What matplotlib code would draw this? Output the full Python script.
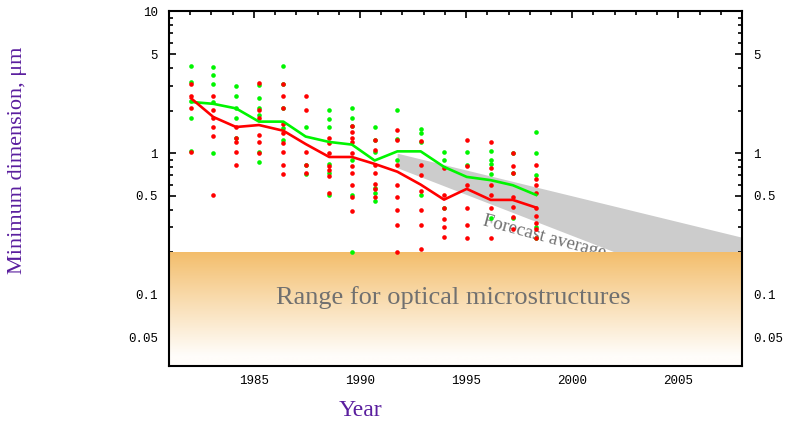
import matplotlib
matplotlib.use('Agg')
import matplotlib.pyplot as plt
import numpy as np
from matplotlib.ticker import LogLocator, FixedLocator, NullFormatter

# Data columns (year positions of the survey points)
years = [1982.04, 1983.09, 1984.16, 1985.24, 1986.39, 1987.44, 1988.55, 1989.62,
         1990.69, 1991.76, 1992.86, 1993.96, 1995.03, 1996.16, 1997.20, 1998.30]

# Average curves
green_avg = [2.30, 2.23, 2.07, 1.67, 1.67, 1.31, 1.20, 1.15,
             0.888, 1.03, 1.03, 0.80, 0.68, 0.645, 0.594, 0.507]
red_avg = [2.44, 1.80, 1.53, 1.58, 1.44, 1.16, 0.94, 0.94,
           0.84, 0.74, 0.60, 0.47, 0.56, 0.468, 0.468, 0.413]

# Individual points per column
green_pts = [
    [4.14, 3.19, 2.33, 1.76, 1.04],
    [4.07, 3.56, 3.06, 2.28, 1.01],
    [2.99, 2.52, 2.07, 1.76, 1.29],
    [3.02, 2.46, 2.07, 1.86, 1.02, 0.87],
    [4.14, 3.06, 2.07, 1.51, 1.24],
    [1.53, 0.82, 0.71],
    [2.02, 1.74, 1.53, 0.84, 0.72, 0.505],
    [2.07, 1.76, 1.56, 0.89, 0.505, 0.20],
    [1.53, 1.24, 1.02, 0.57, 0.52, 0.46],
    [2.02, 1.26, 0.89],
    [1.49, 1.38, 1.20, 0.51],
    [1.02, 0.89, 0.41],
    [1.02, 0.82],
    [1.04, 0.89, 0.84, 0.71, 0.35],
    [1.01, 0.72, 0.35],
    [1.40, 1.0, 0.70, 0.30, 0.25],
]
red_pts = [
    [3.07, 2.52, 2.07, 1.02],
    [2.52, 2.02, 1.76, 1.53, 1.33, 0.51],
    [1.53, 1.27, 1.20, 1.02, 0.82],
    [3.12, 2.02, 1.76, 1.34, 1.20, 1.0],
    [3.06, 2.52, 2.07, 1.60, 1.38, 1.18, 1.02, 0.82, 0.71],
    [2.52, 2.02, 1.02, 0.82, 0.73],
    [1.29, 1.18, 1.01, 0.81, 0.755, 0.69, 0.52],
    [1.56, 1.40, 1.29, 1.19, 1.01, 0.81, 0.72, 0.60, 0.49, 0.39],
    [1.24, 1.05, 0.82, 0.72, 0.61, 0.56, 0.49],
    [1.46, 1.24, 0.82, 0.60, 0.49, 0.40, 0.31, 0.20],
    [1.22, 0.82, 0.70, 0.54, 0.40, 0.31, 0.21],
    [0.79, 0.505, 0.41, 0.345, 0.30, 0.256],
    [1.24, 0.81, 0.60, 0.41, 0.31, 0.25],
    [1.20, 0.79, 0.60, 0.51, 0.41, 0.25],
    [1.01, 0.81, 0.72, 0.49, 0.42, 0.357, 0.29],
    [0.82, 0.655, 0.594, 0.52, 0.41, 0.36, 0.32, 0.29, 0.25],
]

# Forecast band
forecast_years = [1991.75, 2008.0]
forecast_upper = [1.0, 0.255]
forecast_lower = [0.79, 0.09]

optical_limit = 0.2
xlim = (1981, 2008)
ylim = (10 ** -1.5, 10)

purple = '#5a1e9e'
green = '#00f500'
red = '#ff0000'

fig = plt.figure(figsize=(7.85, 4.23), dpi=100)
ax = fig.add_axes([169 / 785, 1 - 365.7 / 423, (742 - 169) / 785, (365.7 - 11.5) / 423])
ax.set_yscale('log')
ax.set_xlim(*xlim)
ax.set_ylim(*ylim)

# Forecast band
ax.fill_between(forecast_years, forecast_lower, forecast_upper,
                color='#cccccc', linewidth=0, zorder=1)
ax.text(1995.74, 0.31, 'Forecast average', rotation=-15, rotation_mode='anchor',
        ha='left', va='baseline', color='#707070', family='Liberation Serif',
        fontsize=13.5, zorder=1.5)

# Optical range band with gradient
top_frac = (np.log10(optical_limit) - np.log10(ylim[0])) / (np.log10(ylim[1]) - np.log10(ylim[0]))
t = np.linspace(0, 1, 256)
f = np.clip(t * 1.1, 0, 1) ** 0.95
c_top = np.array([243, 189, 106]) / 255
c_bot = np.array([255, 253, 250]) / 255
grad = c_top[None, :] * (1 - f[:, None]) + c_bot[None, :] * f[:, None]
ax.imshow(grad[:, None, :], extent=(0, 1, 0, top_frac), transform=ax.transAxes,
          aspect='auto', origin='upper', zorder=2, interpolation='bilinear')
ax.text(0.5 * (1981 + 2008) - 0.1, 0.096, 'Range for optical microstructures',
        ha='center', va='center', color='#707070', family='Liberation Serif',
        fontsize=19, zorder=3)

# Points
for x, pts in zip(years, green_pts):
    ax.scatter([x] * len(pts), pts, s=11, color=green, linewidths=0, zorder=4)
for x, pts in zip(years, red_pts):
    ax.scatter([x] * len(pts), pts, s=11, color=red, linewidths=0, zorder=4)

ax.plot(years, green_avg, color=green, lw=1.9, zorder=5)
ax.plot(years, red_avg, color=red, lw=1.9, zorder=5)

# Ticks
ax.set_xticks([1985, 1990, 1995, 2000, 2005])
ax.xaxis.set_minor_locator(FixedLocator(np.arange(1982, 2008)))
ax.set_yticks([0.05, 0.1, 0.5, 1, 5, 10])
ax.set_yticklabels(['0.05', '0.1', '0.5', '1', '5', '10'])
ax.yaxis.set_minor_locator(LogLocator(base=10, subs=np.arange(2, 10)))
ax.yaxis.set_minor_formatter(NullFormatter())
ax.tick_params(which='both', direction='in', top=True, right=True,
               labelright=True, labelfontfamily='Liberation Mono', labelsize=9,
               width=1.2, color='black')
ax.tick_params(which='major', length=5, pad=8)
ax.tick_params(which='minor', length=3)
ax.tick_params(axis='x', pad=7)
for sp in ax.spines.values():
    sp.set_linewidth(1.5)

# hide the "10" label on the right side
for tk in ax.yaxis.get_major_ticks():
    if tk.get_loc() == 10:
        tk.label2.set_visible(False)

fig.text(18 / 785, 1 - 160 / 423, 'Minimum dimension, μm', rotation=90,
         ha='center', va='center', color=purple, family='Liberation Serif', fontsize=16)
fig.text(360 / 785, 1 - 410 / 423, 'Year', ha='center', va='center',
         color=purple, family='Liberation Serif', fontsize=17)

fig.savefig('out.png', dpi=100)
